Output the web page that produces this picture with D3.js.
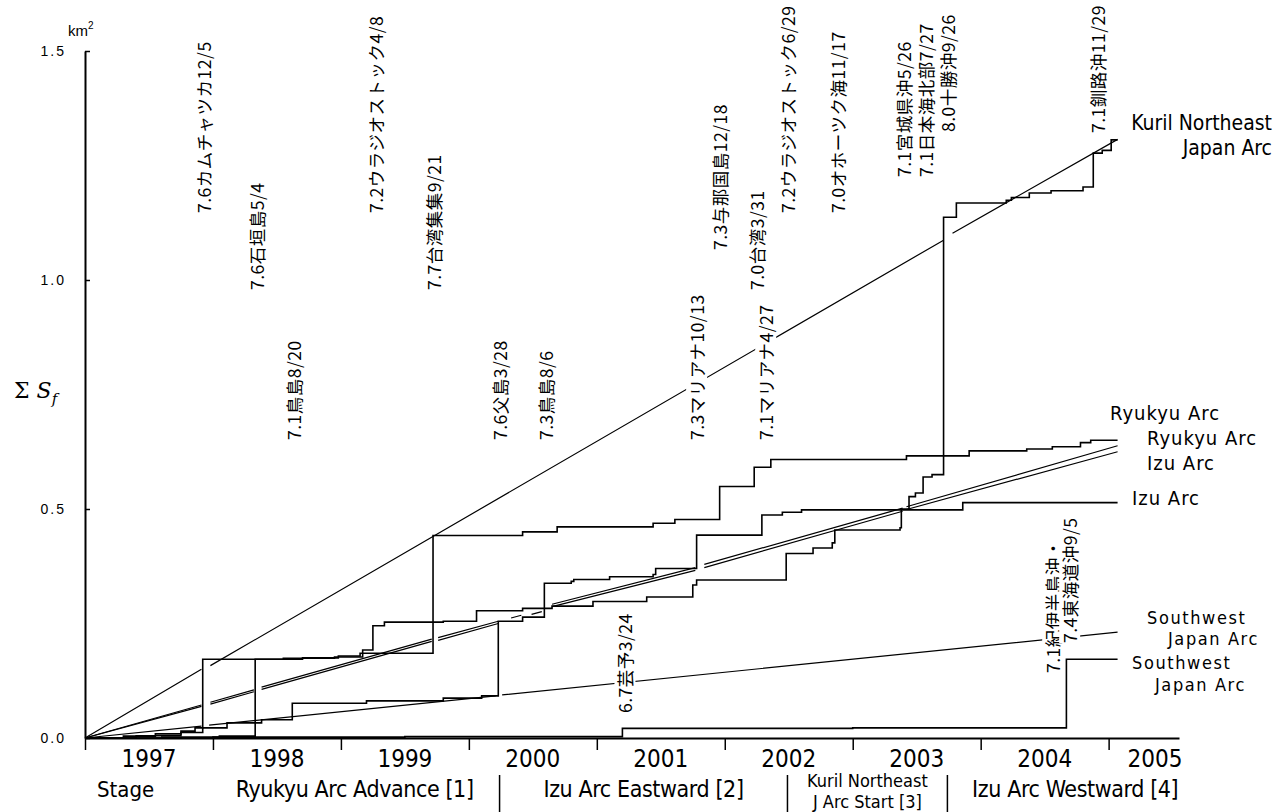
<!DOCTYPE html>
<html><head><meta charset="utf-8">
<script src="https://cdn.jsdelivr.net/npm/d3@7"></script>
<style>
body{margin:0;background:#fff;}
svg{display:block;background:#fff;}
</style></head>
<body><svg id="chart" width="1282" height="812"></svg>
<script>
// ---------------- DATA ----------------
const years = [1997,1998,1999,2000,2001,2002,2003,2004,2005];
const yTickValues = [0, 0.5, 1.0, 1.5];
const yTickLabels = ["0.0","0.5","1.0","1.5"];

// cumulative (step) series: [decimal year, ΣSf km2]
const kurilActual = [[1997.00,0],[1997.30,0.004],[1997.55,0.009],[1997.75,0.015],[1997.86,0.022],
 [1997.92,0.172],[1998.55,0.174],[1998.95,0.177],[1999.17,0.192],[1999.25,0.245],[1999.34,0.253],[1999.80,0.255],
 [2000.06,0.278],[2000.42,0.283],[2000.65,0.288],[2000.97,0.298],[2001.39,0.308],[2001.75,0.334],[2001.78,0.345],
 [2002.48,0.403],[2002.69,0.415],[2002.84,0.426],[2002.86,0.454],[2003.37,0.459],[2003.38,0.500],[2003.44,0.527],
 [2003.49,0.535],[2003.55,0.570],[2003.62,0.575],[2003.71,1.137],[2003.81,1.168],[2004.20,1.174],[2004.24,1.180],
 [2004.38,1.190],[2004.55,1.195],[2004.80,1.203],[2004.88,1.277],[2004.95,1.283],[2005.02,1.306],[2005.07,1.306]];
const ryukyuActual = [[1997.00,0],[1997.60,0.002],[1998.05,0.004],[1998.33,0.172],[1998.70,0.175],[1998.98,0.179],
 [1999.15,0.185],[1999.72,0.442],[2000.42,0.450],[2000.69,0.461],[2001.44,0.469],[2001.61,0.477],[2001.96,0.549],
 [2002.23,0.591],[2002.36,0.608],[2003.42,0.616],[2003.91,0.627],[2004.36,0.631],[2004.56,0.636],[2004.78,0.645],
 [2004.86,0.650],[2005.07,0.650]];
const izuActual = [[1997.00,0],[1997.40,0.005],[1997.75,0.012],[1997.92,0.022],[1998.11,0.033],[1998.38,0.040],
 [1998.62,0.076],[1999.20,0.081],[1999.80,0.087],[2000.10,0.092],[2000.23,0.255],[2000.42,0.264],[2000.59,0.338],
 [2000.80,0.342],[2000.82,0.346],[2001.10,0.352],[2001.44,0.357],[2001.46,0.370],[2001.78,0.443],[2002.29,0.487],
 [2002.45,0.493],[2002.60,0.498],[2003.86,0.514],[2005.07,0.514]];
const swActual = [[1997.00,0],[1998.00,0.002],[1999.50,0.003],[2001.20,0.021],[2003.00,0.022],[2004.67,0.172],[2005.07,0.172]];

// expected (straight) series, null = break in the printed line
const kurilTrend = [[1997.00,0],[1997.91,0.150],null,[1997.98,0.158],[2003.71,1.087],null,[2003.78,1.102],[2005.07,1.307]];
const ryukyuTrend = [[1997.00,0],[1997.91,0.072],null,[1997.98,0.078],[1998.32,0.105],null,[1998.38,0.111],[1999.71,0.216],null,
 [1999.76,0.219],[2000.23,0.255],null,[2000.33,0.262],[2000.41,0.268],null,[2000.65,0.292],[2001.77,0.372],null,
 [2001.84,0.379],[2003.39,0.502],null,[2003.42,0.505],[2005.07,0.638]];
const izuTrend = [[1997.00,0],[1997.91,0.069],null,[1997.98,0.074],[1998.32,0.101],null,[1998.38,0.106],[1999.71,0.211],null,
 [1999.76,0.213],[2000.23,0.250],null,[2000.49,0.270],[2000.57,0.276],null,[2000.65,0.287],[2001.77,0.366],null,
 [2001.84,0.372],[2003.39,0.495],null,[2003.42,0.499],[2005.07,0.625]];
const swTrend = [[1997.00,0],[1997.91,0.026],null,[1997.97,0.028],[2000.21,0.092],null,[2000.26,0.094],[2005.07,0.231]];

const stageNames = [["Ryukyu Arc Advance [1]"],["Izu Arc Eastward [2]"],["Kuril Northeast","J Arc Start [3]"],["Izu Arc Westward [4]"]];
const stageBounds = [1997.0, 2000.24, 2002.49, 2003.74, 2005.55];

const eventTexts = [["7.6カムチャツカ12/5"],["7.6石垣島5/4"],["7.1鳥島8/20"],["7.2ウラジオストック4/8"],["7.7台湾集集9/21"],
 ["7.6父島3/28"],["7.3鳥島8/6"],["6.7芸予3/24"],["7.3マリアナ10/13"],["7.3与那国島12/18"],["7.0台湾3/31"],
 ["7.1マリアナ4/27"],["7.2ウラジオストック6/29"],["7.0オホーツク海11/17"],["7.1宮城県沖5/26"],["7.1日本海北部7/27"],
 ["8.0十勝沖9/26"],["7.1紀伊半島沖・","7.4東海道沖9/5"],["7.1釧路沖11/29"]];
const eventDates = [1997.93,1998.34,1998.63,1999.27,1999.72,2000.24,2000.60,2001.22,2001.78,2001.96,2002.25,
 2002.32,2002.49,2002.88,2003.40,2003.57,2003.74,2004.68,2004.91];

// ---------------- LAYOUT ----------------
const svg = d3.select("#chart");
const x = d3.scaleLinear().domain([1997, 2005.55]).range([85, 1179]);
const y = d3.scaleLinear().domain([0, 1.5]).range([738, 51]);
const narrow = "'DejaVu Sans Condensed','Liberation Sans Narrow',sans-serif";
const jp = "'Noto Sans CJK JP','Noto Sans CJK SC',sans-serif";

const trendLine = d3.line().defined(d => d !== null).x(d => x(d[0])).y(d => y(d[1]));
const stepLine = d3.line().x(d => x(d[0])).y(d => y(d[1])).curve(d3.curveStepAfter);

const gLines = svg.append("g");
[kurilTrend, ryukyuTrend, izuTrend, swTrend].forEach(s => {
  gLines.append("path").attr("d", trendLine(s)).attr("fill","none").attr("stroke","#000").attr("stroke-width",1.2);
});
[kurilActual, ryukyuActual, izuActual, swActual].forEach(s => {
  gLines.append("path").attr("d", stepLine(s)).attr("fill","none").attr("stroke","#000").attr("stroke-width",1.6);
});

// event annotations (rotated), bottom y for each (layout)
const eventBottoms = [213,290,440,213,290,440,440,713,440,250,290,440,213,213,177,177,132,673,133];
const lineOffsets = {17: [-15, 2]};
const gEv = svg.append("g");
eventTexts.forEach((lines, i) => {
  lines.forEach((t, j) => {
    const off = lineOffsets[i] ? lineOffsets[i][j] : 0;
    const yb = (i === 17 && j === 1) ? 643 : eventBottoms[i];
    const g = gEv.append("g").attr("transform", `translate(${x(eventDates[i]) + off},${yb}) rotate(-90)`);
    const r = g.append("rect").attr("fill","#fff");
    const tx = g.append("text").attr("x",0).attr("y",0).attr("dominant-baseline","central")
      .attr("font-family", jp).attr("font-size", 17.5).attr("letter-spacing","0.5px").attr("fill","#000").text(t);
    const b = tx.node().getBBox();
    r.attr("x", b.x).attr("y", b.y + 2).attr("width", b.width).attr("height", b.height - 4);
  });
});

// axes
const xAxis = d3.axisBottom(x).tickValues(years).tickSizeInner(12).tickSizeOuter(0).tickFormat("");
const gx = svg.append("g").attr("transform", `translate(0,${y(0)})`).call(xAxis);
gx.select(".domain").attr("stroke-width", 2);
gx.selectAll(".tick line").attr("stroke-width", 1.5);
const yAxis = d3.axisLeft(y).tickValues(yTickValues).tickSizeInner(-5).tickSizeOuter(0).tickPadding(19)
  .tickFormat((d,i) => yTickLabels[i]);
const gy = svg.append("g").attr("transform", `translate(${x(1997)},0)`).call(yAxis);
gy.select(".domain").attr("stroke-width", 2);
gy.selectAll(".tick line").attr("stroke-width", 1.5);
gy.selectAll(".tick text").attr("font-family","'Liberation Sans',Arial,sans-serif").attr("font-size",14)
  .attr("letter-spacing","2px").attr("fill","#000");

// year labels centered on each year (last one kept inside the axis)
svg.append("g").selectAll("text").data(years).join("text")
  .attr("x", d => Math.min(x(d + 0.5), x.range()[1] - 24))
  .attr("y", 759).attr("text-anchor","middle").attr("dominant-baseline","central")
  .attr("font-family", narrow).attr("font-size", 24).attr("fill","#000").text(d => d);

// stage row
const stageY = 789;
svg.append("text").attr("x", 97).attr("y", stageY).attr("dominant-baseline","central")
  .attr("font-family", narrow).attr("font-size", 22).text("Stage");
stageBounds.slice(1, 4).forEach(b => {
  svg.append("line").attr("x1", x(b)).attr("x2", x(b)).attr("y1", 775).attr("y2", 812)
    .attr("stroke","#000").attr("stroke-width",1.5);
});
stageNames.forEach((lines, i) => {
  const x0 = x(stageBounds[i]), x1 = x(stageBounds[i+1]);
  const cx = i === 0 ? x1 - 26 : (x0 + x1) / 2 + (i === 3 ? 12 : 0);
  const anchor = i === 0 ? "end" : "middle";
  lines.forEach((t, j) => {
    const yy = lines.length === 1 ? stageY : (j === 0 ? 780 : 801);
    svg.append("text").attr("x", cx).attr("y", yy).attr("text-anchor", anchor).attr("dominant-baseline","central")
      .attr("font-family", narrow).attr("font-size", lines.length === 1 ? 23 : 18)
      .attr("letter-spacing", lines.length === 1 ? "-0.4px" : "0px").text(t);
  });
});

// series labels at right
const rightLabels = [
  {t:"Kuril Northeast", x:1272, y:123, a:"end", s:21, ls:0}, {t:"Japan Arc", x:1272, y:148, a:"end", s:21, ls:0},
  {t:"Ryukyu Arc", x:1110, y:413, a:"start", s:20, ls:1}, {t:"Ryukyu Arc", x:1147, y:438, a:"start", s:20, ls:1},
  {t:"Izu Arc", x:1147, y:463, a:"start", s:20, ls:1}, {t:"Izu Arc", x:1132, y:498, a:"start", s:20, ls:1},
  {t:"Southwest", x:1147, y:617, a:"start", s:18, ls:1.6}, {t:"Japan Arc", x:1168, y:638, a:"start", s:18, ls:1.6},
  {t:"Southwest", x:1132, y:662, a:"start", s:18, ls:1.6}, {t:"Japan Arc", x:1155, y:684, a:"start", s:18, ls:1.6}
];
rightLabels.forEach(l => {
  svg.append("text").attr("x", l.x).attr("y", l.y).attr("text-anchor", l.a).attr("dominant-baseline","central")
    .attr("font-family", narrow).attr("font-size", l.s).attr("letter-spacing", l.ls + "px").text(l.t);
});

// unit and axis title
const km = svg.append("text").attr("x", 68).attr("y", 36).attr("font-family","'Liberation Sans',Arial,sans-serif").attr("font-size", 15);
km.append("tspan").text("km");
km.append("tspan").attr("dy", -7).attr("font-size", 10).text("2");
const st = svg.append("text").attr("x", 14).attr("y", 398).attr("font-family","'DejaVu Serif','Liberation Serif',serif").attr("font-size", 22);
st.append("tspan").text("Σ ");
st.append("tspan").attr("font-style","italic").text("S");
st.append("tspan").attr("dy", 6).attr("font-size", 15).attr("font-style","italic").text("f");
</script>
</body></html>
